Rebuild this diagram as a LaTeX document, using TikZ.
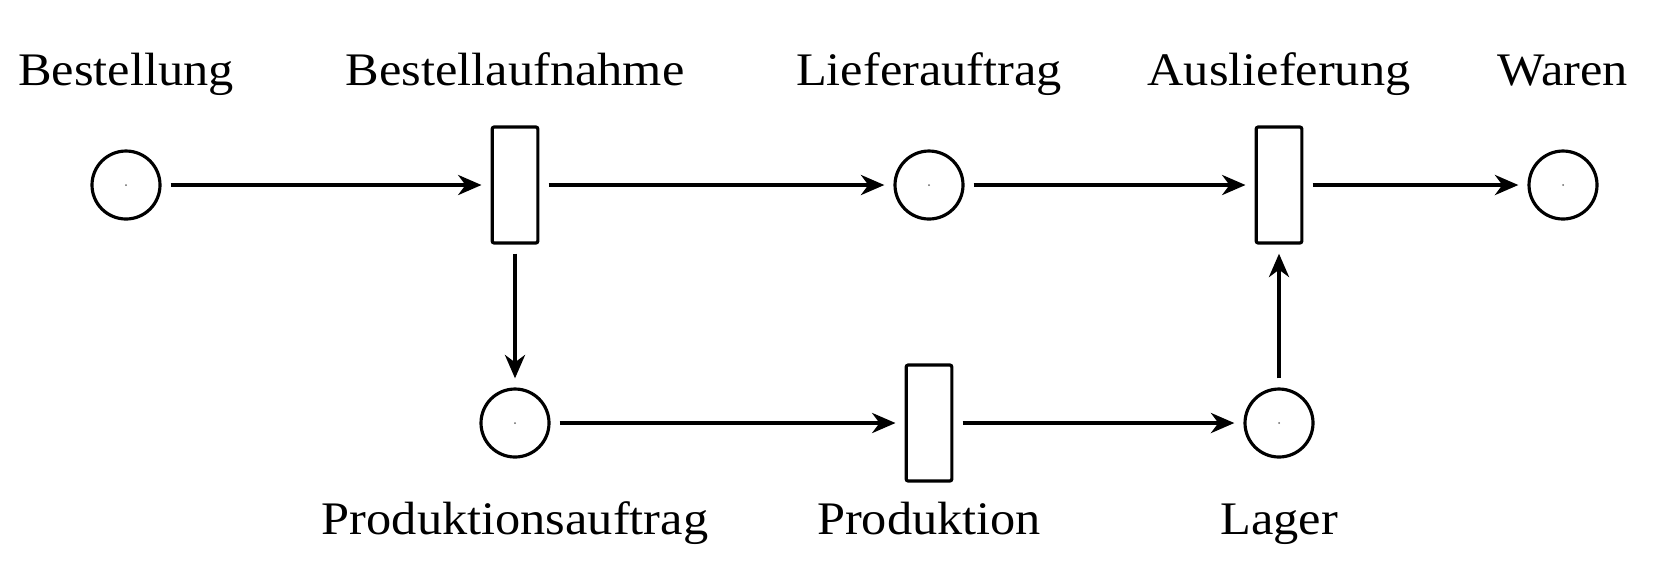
\documentclass[tikz,border=0pt]{standalone}
\usepackage{fontspec}
\setmainfont{Liberation Serif}[FakeStretch=1.08]
\usetikzlibrary{arrows.meta}
\begin{document}
\begin{tikzpicture}[x=0.3pt,y=-0.3pt,
  place/.style={circle,draw,line width=0.95pt,minimum size=20.4pt,inner sep=0pt,outer sep=3.2pt,
    path picture={\fill[black!60] (path picture bounding box.center) circle (0.3pt);}},
  trans/.style={rectangle,draw,line width=0.95pt,minimum width=13.7pt,minimum height=34.8pt,inner sep=0pt,outer sep=3.2pt,rounded corners=0.6pt},
  lbl/.style={anchor=base,inner sep=0pt,font=\fontsize{14}{16}\selectfont},
  arc/.style={-{Stealth[length=7pt,width=6pt,inset=2.2pt]},line width=1.35pt}]
\useasboundingbox (0,0) rectangle (1671,576);
\node[place] (p1) at (126,185) {};
\node[trans] (t1) at (515,185) {};
\node[place] (p2) at (929,185) {};
\node[trans] (t2) at (1279,185) {};
\node[place] (p3) at (1563,185) {};
\node[place] (p4) at (515,423) {};
\node[trans] (t3) at (929,423) {};
\node[place] (p5) at (1279,423) {};
\node[lbl] (l1) at (126,85) {Bestellung};
\node[lbl] (l2) at (515,85) {Bestellaufnahme};
\node[lbl] (l3) at (929,85) {Lieferauftrag};
\node[lbl] (l4) at (1279,85) {Auslieferung};
\node[lbl] (l5) at (1563,85) {Waren};
\node[lbl] (l6) at (515,534) {Produktionsauftrag};
\node[lbl] (l7) at (929,534) {Produktion};
\node[lbl] (l8) at (1279,534) {Lager};
\draw[arc] (p1) -- (t1);
\draw[arc] (t1) -- (p2);
\draw[arc] (p2) -- (t2);
\draw[arc] (t2) -- (p3);
\draw[arc] (t1) -- (p4);
\draw[arc] (p4) -- (t3);
\draw[arc] (t3) -- (p5);
\draw[arc] (p5) -- (t2);
\end{tikzpicture}
\end{document}
